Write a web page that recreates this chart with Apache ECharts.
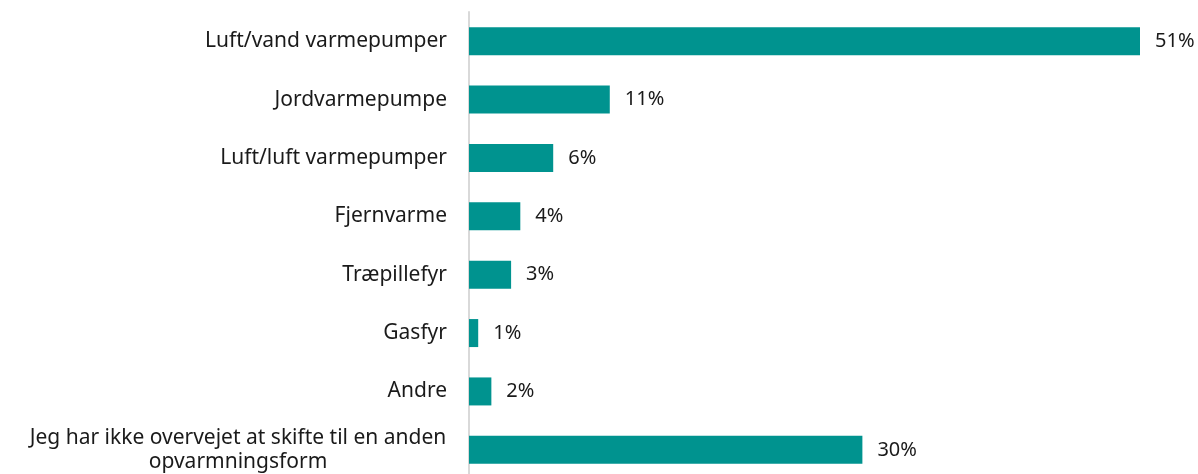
<!DOCTYPE html>
<html>
<head>
<meta charset="utf-8">
<script src="https://cdn.jsdelivr.net/npm/echarts@6/dist/echarts.min.js"></script>
<style>
  html, body { margin: 0; padding: 0; background: #fff; }
  #chart { width: 1198px; height: 474px; }
</style>
</head>
<body>
<div id="chart"></div>
<script>
// kategorier, oppefra og ned
var categories = [
  'Luft/vand varmepumper',
  'Jordvarmepumpe',
  'Luft/luft varmepumper',
  'Fjernvarme',
  'Træpillefyr',
  'Gasfyr',
  'Andre',
  'Jeg har ikke overvejet at skifte til en anden\nopvarmningsform'
]
// andel i procent (aflæst fra søjlerne)
var shares = [51.0, 10.7, 6.4, 3.9, 3.2, 0.7, 1.7, 29.9]

var chart = echarts.init(document.getElementById('chart'))
var font = 'Noto Sans'

var option = {
  animation: false,
  grid: {
    left: 469,
    right: 58,
    top: 12,
    height: 467,
    containLabel: false,
    outerBoundsMode: 'none'
  },
  xAxis: {
    type: 'value',
    min: 0,
    max: 51,
    show: false
  },
  yAxis: {
    type: 'category',
    inverse: true,
    data: categories,
    axisLine: {
      show: true,
      lineStyle: { color: '#d9d9d9', width: 2 }
    },
    axisTick: { show: false },
    axisLabel: {
      margin: 22,
      color: '#1a1a1a',
      fontFamily: font,
      fontSize: 21,
      formatter: function (val) {
        if (val.indexOf('\n') < 0) return val
        // to linjer, anden linje centreret under første
        return val.split('\n').map(function (l) { return '{c|' + l + '}' }).join('\n')
      },
      rich: {
        c: {
          width: 418,
          align: 'center',
          fontFamily: font,
          fontSize: 21,
          color: '#1a1a1a',
          lineHeight: 24
        }
      }
    }
  },
  series: [
    {
      type: 'bar',
      data: shares,
      barWidth: 28,
      itemStyle: { color: '#00938f' },
      label: {
        show: true,
        position: 'right',
        distance: 15,
        color: '#1a1a1a',
        fontFamily: font,
        fontSize: 20,
        formatter: function (p) { return Math.round(p.value) + '%' }
      }
    }
  ]
}
chart.setOption(option)
</script>
</body>
</html>
